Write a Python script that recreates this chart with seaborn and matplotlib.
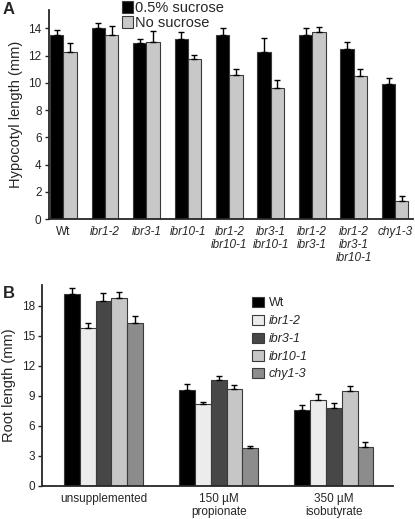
import matplotlib
matplotlib.use("Agg")
import matplotlib.pyplot as plt
import seaborn as sns
import pandas as pd
import numpy as np

sns.set_theme(style="ticks")
plt.rcParams['font.family'] = ['Liberation Sans', 'DejaVu Sans']

# ---------------- Panel A data ----------------
genotypes_a = ["Wt", "ibr1-2", "ibr3-1", "ibr10-1", "ibr1-2\nibr10-1", "ibr3-1\nibr10-1",
               "ibr1-2\nibr3-1", "ibr1-2\nibr3-1\nibr10-1", "chy1-3"]
conditions_a = ["0.5% sucrose", "No sucrose"]
sucrose_vals = [13.5, 14.0, 12.9, 13.25, 13.5, 12.3, 13.5, 12.5, 9.9]
sucrose_err = [0.4, 0.4, 0.35, 0.45, 0.55, 1.0, 0.55, 0.5, 0.45]
nosucrose_vals = [12.3, 13.55, 13.0, 11.75, 10.6, 9.6, 13.75, 10.5, 1.35]
nosucrose_err = [0.6, 0.6, 0.8, 0.3, 0.4, 0.6, 0.35, 0.5, 0.35]
yticks_a = [0, 2, 4, 6, 8, 10, 12, 14]

# ---------------- Panel B data ----------------
treatments_b = ["unsupplemented", "150 µM\npropionate", "350 µM\nisobutyrate"]
lines_b = ["Wt", "ibr1-2", "ibr3-1", "ibr10-1", "chy1-3"]
root_vals = {
    "Wt":      [19.2, 9.6, 7.55],
    "ibr1-2":  [15.8, 8.2, 8.55],
    "ibr3-1":  [18.5, 10.6, 7.8],
    "ibr10-1": [18.8, 9.7, 9.5],
    "chy1-3":  [16.3, 3.75, 3.9],
}
root_err = {
    "Wt":      [0.55, 0.55, 0.55],
    "ibr1-2":  [0.5, 0.2, 0.6],
    "ibr3-1":  [0.75, 0.35, 0.45],
    "ibr10-1": [0.6, 0.35, 0.45],
    "chy1-3":  [0.7, 0.25, 0.45],
}
yticks_b = [0, 3, 6, 9, 12, 15, 18]

# ---------------- build tables ----------------
df_a = pd.DataFrame({
    "genotype": genotypes_a * 2,
    "condition": [conditions_a[0]] * len(genotypes_a) + [conditions_a[1]] * len(genotypes_a),
    "length": sucrose_vals + nosucrose_vals,
    "err": sucrose_err + nosucrose_err,
})
rows = []
for ln in lines_b:
    for i, t in enumerate(treatments_b):
        rows.append({"treatment": t, "line": ln, "length": root_vals[ln][i], "err": root_err[ln][i]})
df_b = pd.DataFrame(rows)

W, H = 415, 519
fig = plt.figure(figsize=(W / 100, H / 100), dpi=100)

def px_axes(left, top, right, bottom):
    return fig.add_axes([left / W, 1 - bottom / H, (right - left) / W, (bottom - top) / H])

edge = "#3a3a3a"
lw_axis = 1.3

# ---------------- Panel A ----------------
axA = px_axes(48.5, 10, 413, 219)
pal_a = {conditions_a[0]: "#000000", conditions_a[1]: "#c8c8c8"}
sns.barplot(data=df_a, x="genotype", y="length", hue="condition", order=genotypes_a,
            hue_order=conditions_a, palette=pal_a, width=0.64, errorbar=None,
            edgecolor=edge, linewidth=0.8, saturation=1, ax=axA)
for cont, cond in zip(axA.containers, conditions_a):
    errs = df_a[df_a.condition == cond].set_index("genotype").loc[genotypes_a, "err"].values
    xs = [b.get_x() + b.get_width() / 2 for b in cont]
    ys = [b.get_height() for b in cont]
    axA.errorbar(xs, ys, yerr=[np.zeros(len(errs)), errs], fmt="none", ecolor="black",
                 elinewidth=1.0, capsize=2.5, capthick=1.0, zorder=1)
axA.set_xlim(-0.36, 8.43)
axA.set_ylim(0, 15.35)
axA.set_yticks(yticks_a)
axA.set_yticklabels([str(v) for v in yticks_a], fontsize=8.5)
axA.set_xlabel("")
axA.set_ylabel("Hypocotyl length (mm)", fontsize=10.5, labelpad=4)
axA.tick_params(axis="x", length=0, pad=5)
axA.tick_params(axis="y", length=3, width=1, pad=2)
axA.set_xticks(range(len(genotypes_a)))
axA.set_xticklabels(genotypes_a, fontsize=8.5, va="top", linespacing=1.1)
for t, g in zip(axA.get_xticklabels(), genotypes_a):
    if g != "Wt":
        t.set_fontstyle("italic")
for s in ["top", "right"]:
    axA.spines[s].set_visible(False)
for s in ["left", "bottom"]:
    axA.spines[s].set_linewidth(lw_axis)
hA, lA = axA.get_legend_handles_labels()
axA.get_legend().remove()
fig.legend(hA, lA, loc="upper left", bbox_to_anchor=(122 / W, 1 - 1 / H), frameon=False,
           fontsize=10.5, handlelength=0.72, handleheight=0.9, handletextpad=0.15,
           labelspacing=0.05, borderpad=0, borderaxespad=0)

# ---------------- Panel B ----------------
axB = px_axes(42, 285, 393, 486)
pal_b = {"Wt": "#000000", "ibr1-2": "#ececec", "ibr3-1": "#474747",
         "ibr10-1": "#c6c6c6", "chy1-3": "#8c8c8c"}
sns.barplot(data=df_b, x="treatment", y="length", hue="line", order=treatments_b,
            hue_order=lines_b, palette=pal_b, width=0.686, errorbar=None,
            edgecolor=edge, linewidth=0.8, saturation=1, ax=axB)
for cont, ln in zip(axB.containers, lines_b):
    errs = root_err[ln]
    xs = [b.get_x() + b.get_width() / 2 for b in cont]
    ys = [b.get_height() for b in cont]
    axB.errorbar(xs, ys, yerr=[np.zeros(len(errs)), errs], fmt="none", ecolor="black",
                 elinewidth=1.0, capsize=2.5, capthick=1.0, zorder=1)
axB.set_xlim(-0.534, 2.514)
axB.set_ylim(0, 20.05)
axB.set_yticks(yticks_b)
axB.set_yticklabels([str(v) for v in yticks_b], fontsize=8.5)
axB.set_xlabel("")
axB.set_ylabel("Root length (mm)", fontsize=10.5, labelpad=4)
axB.tick_params(axis="x", length=0, pad=5)
axB.tick_params(axis="y", length=3, width=1, pad=2)
axB.set_xticks(range(len(treatments_b)))
axB.set_xticklabels(treatments_b, fontsize=8.5, linespacing=1.15)
for s in ["top", "right"]:
    axB.spines[s].set_visible(False)
for s in ["left", "bottom"]:
    axB.spines[s].set_linewidth(lw_axis)
hB, lB = axB.get_legend_handles_labels()
axB.get_legend().remove()
legB = fig.legend(hB, lB, loc="upper left", bbox_to_anchor=(252 / W, 1 - 297 / H), frameon=False,
                  fontsize=9, handlelength=0.95, handleheight=0.9, handletextpad=0.4,
                  labelspacing=0.42, borderpad=0, borderaxespad=0)
for t in legB.get_texts():
    if t.get_text() != "Wt":
        t.set_fontstyle("italic")

# panel letters
fig.text(3 / W, 1 - 2 / H, "A", fontsize=12, fontweight="bold", va="top", ha="left")
fig.text(3 / W, 1 - 286 / H, "B", fontsize=12, fontweight="bold", va="top", ha="left")

fig.savefig("out.png", dpi=100)
